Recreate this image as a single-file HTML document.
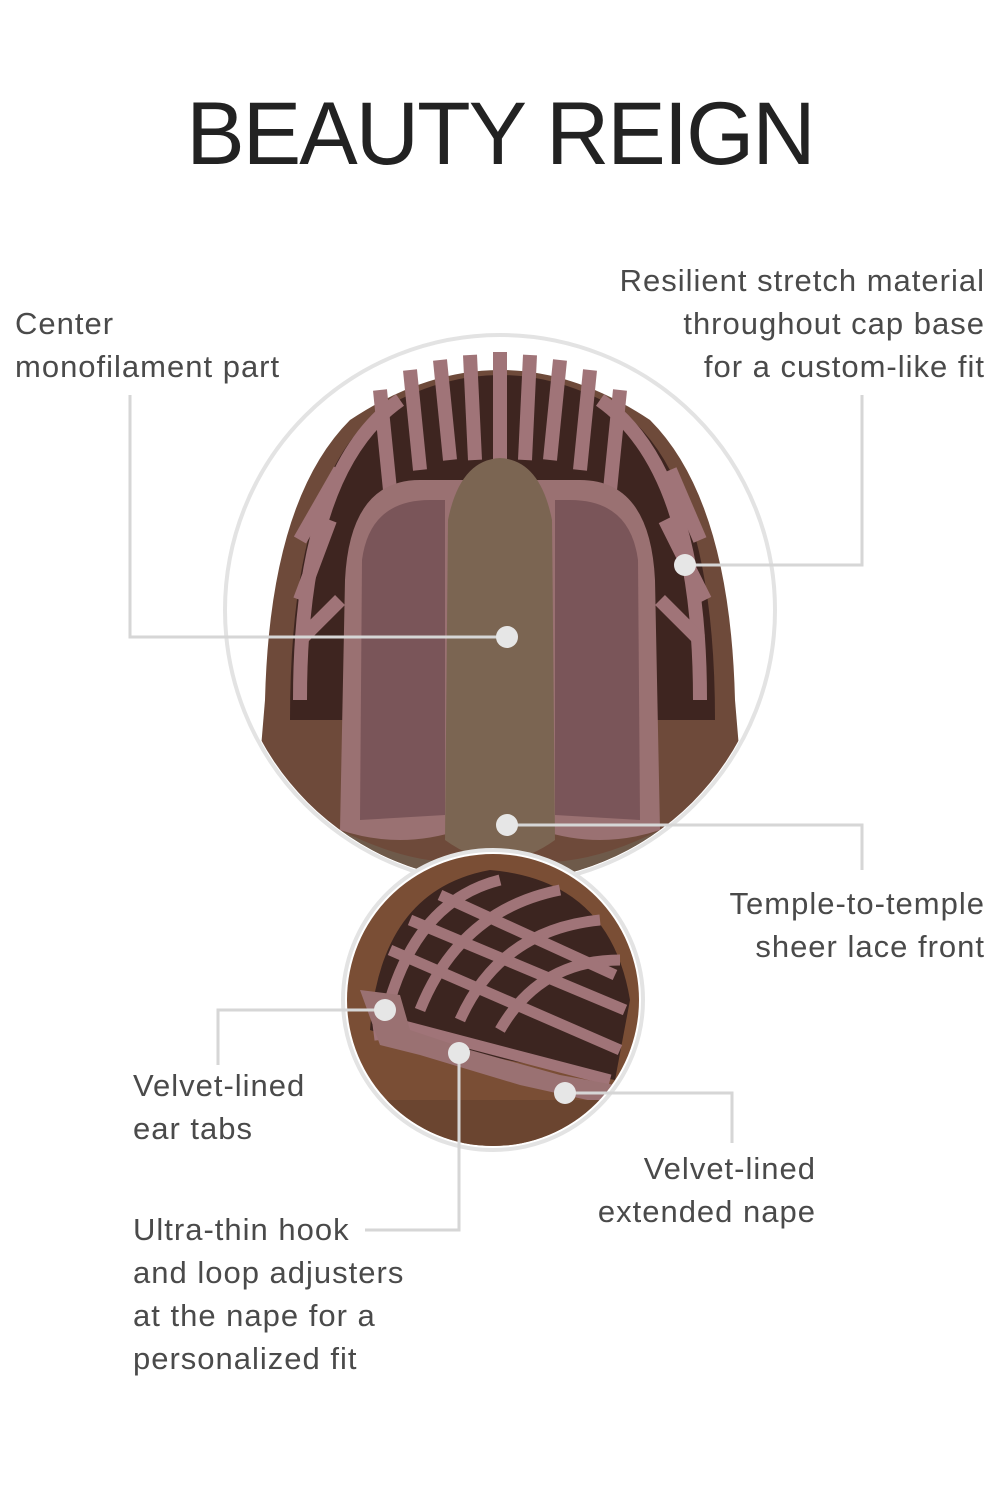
<!DOCTYPE html>
<html><head><meta charset="utf-8"><style>
body{margin:0;background:#fff;}
.wrap{position:relative;width:1000px;height:1500px;overflow:hidden;font-family:"Liberation Sans",sans-serif;}
.t{position:absolute;color:#4a4a4a;font-size:31px;letter-spacing:1px;line-height:43px;white-space:nowrap;font-family:"Liberation Sans",sans-serif;}
.r{text-align:right;}
h1{position:absolute;top:82px;left:0;width:1000px;text-align:center;margin:0;font-weight:normal;font-size:89px;letter-spacing:-2px;color:#222;font-family:"Liberation Sans",sans-serif;transform:scaleX(0.985);}
</style></head><body><div class="wrap">
<h1>BEAUTY REIGN</h1>
<svg width="1000" height="1500" style="position:absolute;left:0;top:0">
<defs>
<clipPath id="c1"><circle cx="500" cy="610" r="272"/></clipPath>
<clipPath id="c2"><circle cx="493" cy="1000" r="146"/></clipPath>
</defs>
<circle cx="500" cy="610" r="275" fill="#fff" stroke="#e3e3e3" stroke-width="4"/>
<g clip-path="url(#c1)">
<rect x="220" y="330" width="560" height="560" fill="#fff"/>
<path d="M250 880 L265 700 Q270 500 350 420 Q500 320 650 420 Q730 500 735 700 L750 880 Z" fill="#6e4a3a"/>
<path d="M290 720 Q290 480 380 410 Q500 340 620 410 Q715 480 715 720 Z" fill="#3e2520"/>
<g stroke="#a07478" stroke-width="14" fill="none">
<path d="M300 700 Q300 470 400 400"/><path d="M700 700 Q700 470 600 400"/>
<path d="M330 520 L300 600"/><path d="M340 470 L300 540"/><path d="M670 470 L700 540"/><path d="M665 520 L705 600"/>
<line x1="440" y1="360" x2="450" y2="460"/><line x1="470" y1="355" x2="475" y2="460"/><line x1="500" y1="352" x2="500" y2="460"/><line x1="530" y1="355" x2="525" y2="460"/><line x1="560" y1="360" x2="550" y2="460"/>
<line x1="410" y1="370" x2="420" y2="470"/><line x1="590" y1="370" x2="580" y2="470"/>
<line x1="380" y1="390" x2="390" y2="490"/><line x1="620" y1="390" x2="610" y2="490"/>
<line x1="300" y1="640" x2="340" y2="600"/><line x1="700" y1="640" x2="660" y2="600"/>
</g>
<path d="M340 830 L345 580 Q350 480 420 480 L460 480 L540 480 L580 480 Q650 480 655 580 L660 830 Q600 850 540 830 L460 830 Q400 850 340 830 Z" fill="#9a7172"/>
<path d="M360 820 L362 560 Q370 500 430 500 L445 500 L445 815 Z" fill="#7a5559"/>
<path d="M640 820 L638 560 Q630 500 570 500 L555 500 L555 815 Z" fill="#7a5559"/>
<path d="M445 840 L448 520 Q460 460 500 458 Q540 460 552 520 L555 840 Q500 880 445 840Z" fill="#7b6552"/>
<path d="M340 830 Q420 870 480 860 L520 860 Q580 870 660 830 L670 880 L330 880 Z" fill="#6e5a4a"/>
</g>
<circle cx="493" cy="1000" r="150" fill="#fff" stroke="#e3e3e3" stroke-width="4"/>
<g clip-path="url(#c2)">
<rect x="340" y="850" width="310" height="300" fill="#7a4e35"/>
<path d="M370 1030 Q380 890 490 870 Q610 880 630 1000 L615 1080 L400 1040 Z" fill="#3c2520"/>
<g stroke="#a07478" stroke-width="11" fill="none">
<path d="M390 1000 Q420 900 500 880"/><path d="M420 1010 Q460 910 560 890"/><path d="M460 1020 Q500 930 600 920"/>
<path d="M500 1030 Q540 960 620 960"/><path d="M390 950 L620 1050"/><path d="M410 920 L625 1010"/><path d="M440 895 L615 975"/>
<path d="M375 1000 L380 1040"/><path d="M400 1025 L610 1080"/>
</g>
<path d="M360 990 L400 995 L410 1030 L470 1050 L560 1075 L615 1085 L610 1105 L520 1085 L420 1055 L380 1045 Z" fill="#9a7172"/>
<rect x="340" y="1100" width="310" height="60" fill="#6b4530"/>
</g>
<g stroke="#d6d6d6" stroke-width="3" fill="none">
<polyline points="130,395 130,637 507,637"/>
<polyline points="862,395 862,565 685,565"/>
<polyline points="507,825 862,825 862,870"/>
<polyline points="218,1065 218,1010 385,1010"/>
<polyline points="459,1053 459,1230 365,1230"/>
<polyline points="565,1093 732,1093 732,1143"/>
</g>
<g fill="#e6e6e6">
<circle cx="507" cy="637" r="11"/><circle cx="685" cy="565" r="11"/><circle cx="507" cy="825" r="11"/>
<circle cx="385" cy="1010" r="11"/><circle cx="459" cy="1053" r="11"/><circle cx="565" cy="1093" r="11"/>
</g>
</svg>
<div class="t" style="left:15px;top:302px">Center<br>monofilament part</div>
<div class="t r" style="right:15px;top:259px">Resilient stretch material<br>throughout cap base<br>for a custom-like fit</div>
<div class="t r" style="right:15px;top:882px">Temple-to-temple<br>sheer lace front</div>
<div class="t" style="left:133px;top:1064px">Velvet-lined<br>ear tabs</div>
<div class="t" style="left:133px;top:1208px">Ultra-thin hook<br>and loop adjusters<br>at the nape for a<br>personalized fit</div>
<div class="t r" style="right:184px;top:1147px">Velvet-lined<br>extended nape</div>
</div></body></html>
